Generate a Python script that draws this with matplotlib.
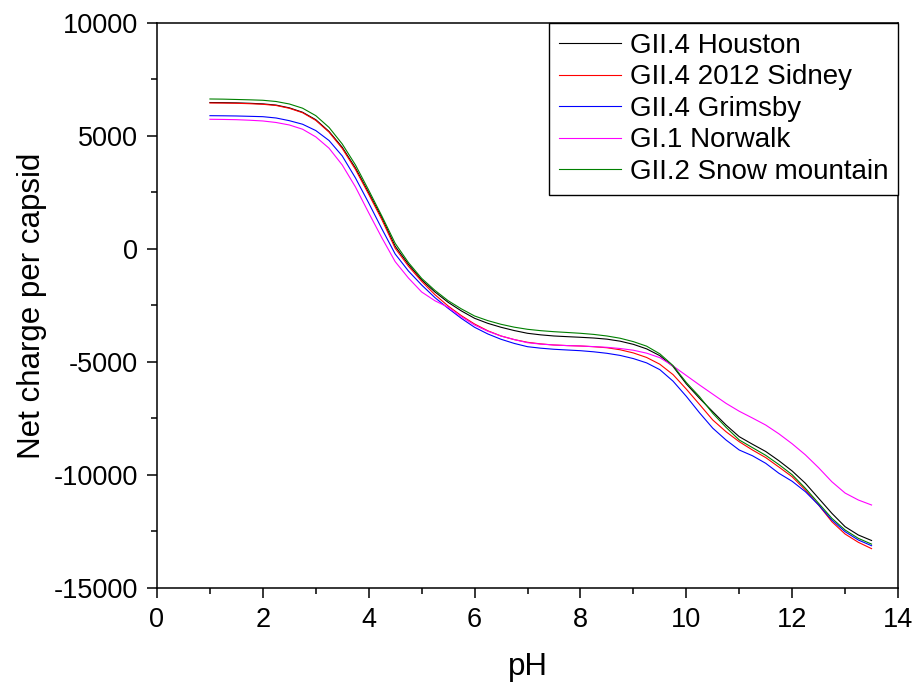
import numpy as np
import matplotlib.pyplot as plt

plt.switch_backend("Agg")
plt.rcParams["font.family"] = ["Liberation Sans", "DejaVu Sans"]
plt.rcParams["axes.unicode_minus"] = False

# pH grid shared by all strains (steps of 0.25)
ph = np.arange(1.0, 13.51, 0.25)

# net charge per capsid for each strain
houston = [6480, 6475, 6465, 6447, 6420, 6367, 6245, 6050, 5720, 5200,
           4500, 3580, 2490, 1370, 120, -680, -1370, -1900, -2359, -2740,
           -3067, -3290, -3465, -3610, -3731, -3800, -3850, -3880, -3908,
           -3940, -3990, -4080, -4220, -4420, -4720, -5200, -5968, -6607,
           -7200, -7789, -8306, -8640, -8960, -9370, -9824, -10368, -11032,
           -11696, -12289, -12656, -12900]
sidney = [6460, 6455, 6447, 6428, 6402, 6349, 6225, 6030, 5690, 5170,
          4447, 3517, 2420, 1290, 30, -760, -1430, -2020, -2523, -2950,
          -3320, -3620, -3851, -4010, -4129, -4200, -4249, -4275, -4293,
          -4325, -4370, -4460, -4600, -4800, -5100, -5560, -6200, -6880,
          -7567, -8085, -8528, -8895, -9230, -9650, -10080, -10665, -11329,
          -12067, -12612, -12979, -13260]
grimsby = [5898, 5893, 5885, 5870, 5854, 5796, 5677, 5520, 5240, 4800,
           4115, 3141, 2035, 885, -222, -974, -1594, -2150, -2625, -3070,
           -3465, -3760, -3996, -4180, -4324, -4390, -4438, -4470, -4501,
           -4550, -4616, -4710, -4850, -5040, -5340, -5850, -6520, -7250,
           -7930, -8452, -8895, -9150, -9483, -9926, -10280, -10740, -11329,
           -11992, -12510, -12877, -13130]
norwalk = [5739, 5732, 5721, 5697, 5664, 5597, 5487, 5300, 4960, 4460,
           3717, 2743, 1600, 487, -560, -1284, -1903, -2290, -2580, -3000,
           -3364, -3640, -3851, -4010, -4147, -4210, -4249, -4275, -4293,
           -4320, -4351, -4404, -4480, -4610, -4810, -5178, -5598, -6018,
           -6424, -6830, -7180, -7480, -7790, -8180, -8620, -9110, -9680,
           -10300, -10800, -11107, -11329]
snow_mountain = [6637, 6630, 6615, 6600, 6580, 6526, 6416, 6230, 5900, 5380,
                 4646, 3717, 2600, 1450, 250, -600, -1300, -1830, -2288,
                 -2650, -2965, -3170, -3333, -3460, -3554, -3615, -3660,
                 -3695, -3731, -3780, -3850, -3950, -4100, -4300, -4640,
                 -5160, -5908, -6536, -7271, -7890, -8452, -8790, -9130,
                 -9540, -9990, -10590, -11253, -11917, -12435, -12804, -13060]

series = [
    ("GII.4 Houston", houston, "black"),
    ("GII.4 2012 Sidney", sidney, "#FF0000"),
    ("GII.4 Grimsby", grimsby, "#0000FF"),
    ("GI.1 Norwalk", norwalk, "#FF00FF"),
    ("GII.2 Snow mountain", snow_mountain, "#008000"),
]

fig = plt.figure(figsize=(9.17, 6.84), dpi=100)
ax = fig.add_axes([0.1712, 0.1404, 0.8081, 0.826])

for name, vals, col in series:
    ax.plot(ph, vals, color=col, lw=0.8, label=name)

ax.set_xlim(0, 14)
ax.set_ylim(-15000, 10000)
ax.set_xticks(np.arange(0, 15, 2))
ax.set_xticks(np.arange(1, 14, 2), minor=True)
ax.set_yticks(np.arange(-15000, 10001, 5000))
ax.set_yticks(np.arange(-12500, 10000, 5000), minor=True)

for s in ax.spines.values():
    s.set_linewidth(1.1)
ax.tick_params(which="major", direction="out", length=7.5, width=1.1,
               labelsize=19.5, pad=6, top=False, right=False)
ax.tick_params(which="minor", direction="out", length=4, width=1.1,
               top=False, right=False)

ax.set_xlabel("pH", fontsize=22.5, labelpad=14)
ax.set_ylabel("Net charge per capsid", fontsize=22.5, labelpad=5)

leg = ax.legend(loc="upper right", fontsize=20, frameon=True, fancybox=False,
                borderaxespad=0, borderpad=0.35, labelspacing=0.2,
                handlelength=2.25, handletextpad=0.3)
leg.get_frame().set_edgecolor("black")
leg.get_frame().set_linewidth(1.0)
leg.get_frame().set_alpha(1)

fig.savefig("out.png", dpi=100)
